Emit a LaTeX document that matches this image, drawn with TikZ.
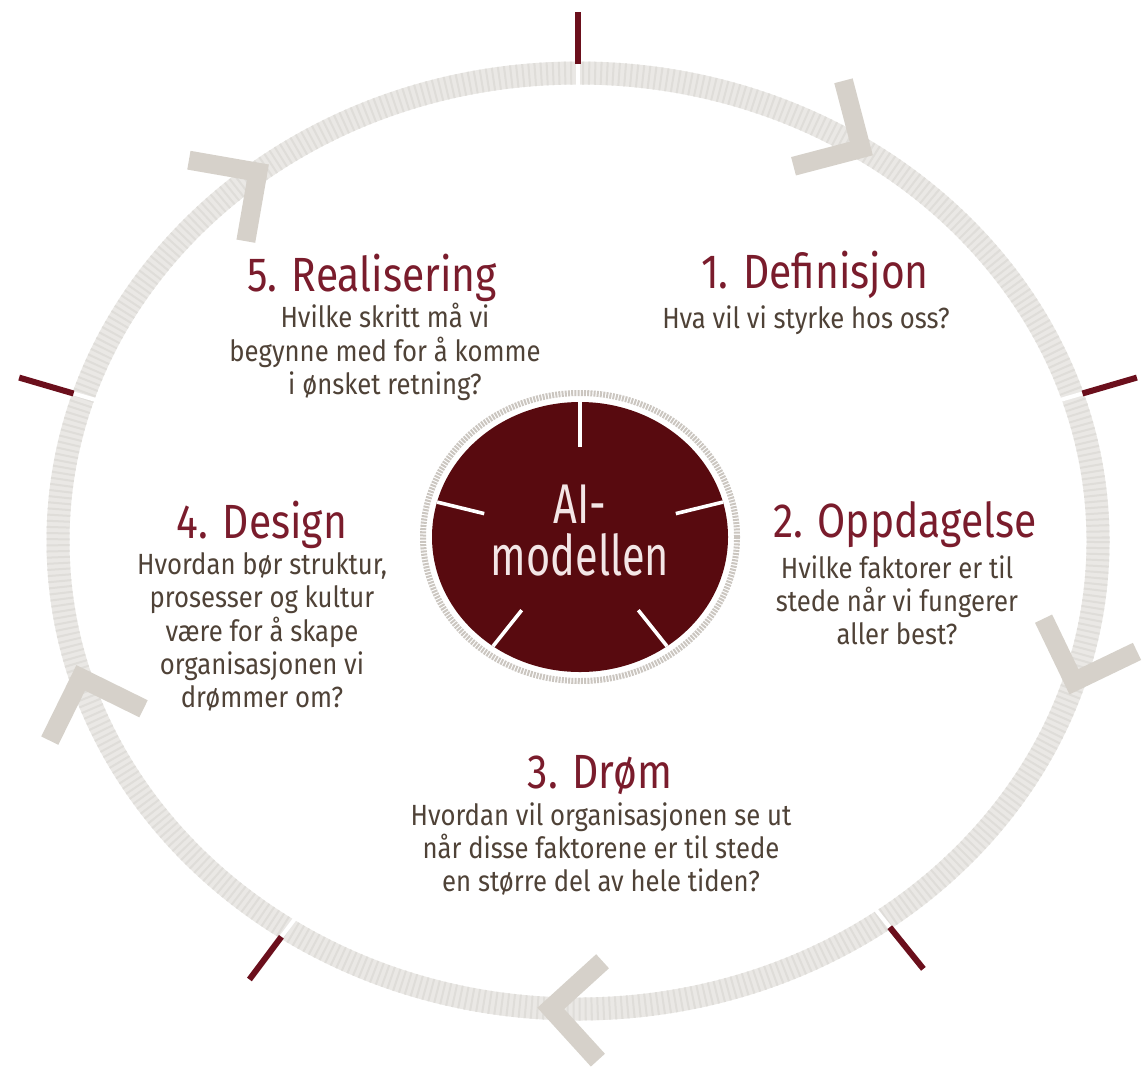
\documentclass[tikz,border=0pt]{standalone}
\usepackage{fontspec}
\usetikzlibrary{calc}
\newfontfamily\titlefont[FakeStretch=0.85]{Fira Sans}
\newfontfamily\bodyfont[FakeStretch=0.88]{Fira Sans}
\newfontfamily\centerfont[FakeStretch=0.74]{Fira Sans}
\definecolor{ringbase}{HTML}{EAE8E5}
\definecolor{ringstripe}{HTML}{DFDDD9}
\definecolor{chevcol}{HTML}{D6D1CA}
\definecolor{innerring}{HTML}{CBC6C0}
\definecolor{tickred}{HTML}{6B0F1C}
\definecolor{discred}{HTML}{580A0F}
\definecolor{titlered}{HTML}{7A1C2C}
\definecolor{bodygray}{HTML}{4F4237}
\definecolor{disctext}{HTML}{F3E6E6}
\tikzset{
  ringline/.style={line width=11.5pt, color=ringbase},
  ringtex/.style={line width=11.5pt, color=ringstripe, dash pattern=on 1pt off 2pt},
  chevron/.style={line width=9.5pt, color=chevcol, line join=miter, line cap=butt},
  ticklin/.style={line width=3pt, color=tickred},
  gapline/.style={line width=2pt, color=white},
  spoke/.style={line width=1.8pt, color=white},
  titletext/.style={font=\titlefont\fontsize{24}{28}\selectfont, text=titlered, inner sep=0pt},
  bodytext/.style={font=\bodyfont\fontsize{14.6}{16.6}\selectfont, text=bodygray, align=center, inner sep=0pt},
}
\begin{document}
\begin{tikzpicture}[x=0.5pt,y=-0.5pt]
\useasboundingbox (0,0) rectangle (1143,1071);
\fill[white] (0,0) rectangle (1143,1071);
% outer ring
\draw[ringline] (578,541) ellipse [x radius=520, y radius=468];
\draw[ringtex] (578,541) ellipse [x radius=520, y radius=468];
% ticks
\foreach \t [count=\i] in {90,18,-54,-124,162}{
  \coordinate (gapa\i) at ({578+0.97*520*cos(\t)},{541-0.97*468*sin(\t)});
  \coordinate (tickin\i) at ({578+1.02*520*cos(\t)},{541-1.02*468*sin(\t)});
  \coordinate (tickout\i) at ({578+1.13*520*cos(\t)},{541-1.13*468*sin(\t)});
  \draw[gapline] (gapa\i) -- (tickin\i);
  \draw[ticklin] (tickin\i) -- (tickout\i);
}
% chevrons
\foreach \t [count=\i] in {57,-17.5,-93,197,128}{
  \pgfmathsetmacro\px{578+520*cos(\t)}
  \pgfmathsetmacro\py{541-468*sin(\t)}
  \pgfmathsetmacro\ang{atan2(468*cos(\t),520*sin(\t))}
  \coordinate (chev\i) at (\px,\py);
  \draw[chevron] ($(chev\i)+(\ang+135:70)$) -- (chev\i) -- ($(chev\i)+(\ang-135:70)$);
}
% inner disc
\draw[line width=3pt, color=innerring, dash pattern=on 1pt off 0.6pt] (580,537) ellipse [x radius=157, y radius=144];
\fill[discred] (580,537) ellipse [x radius=148, y radius=135];
\foreach \t [count=\i] in {90,15,-54,-126,165}{
  \coordinate (spa\i) at ({580+148*cos(\t)},{537-135*sin(\t)});
  \coordinate (spb\i) at ({580+0.67*148*cos(\t)},{537-0.67*135*sin(\t)});
  \draw[spoke] (spa\i) -- (spb\i);
}
\node[font=\centerfont\fontsize{28}{26}\selectfont, text=disctext, align=center, inner sep=0pt] (center) at (580,531) {AI-\\modellen};
% texts
\node[titletext] (t5) at (372,278) {5. Realisering};
\node[bodytext] (b5) at (385,352) {Hvilke skritt må vi\\begynne med for å komme\\i ønsket retning?};
\node[titletext] (t1) at (815,275) {1. Definisjon};
\node[bodytext] (b1) at (806,320) {Hva vil vi styrke hos oss?};
\node[titletext] (t4) at (262,525) {4. Design};
\node[bodytext] (b4) at (262,632) {Hvordan bør struktur,\\prosesser og kultur\\være for å skape\\organisasjonen vi\\drømmer om?};
\node[titletext] (t2) at (905,525) {2. Oppdagelse};
\node[bodytext] (b2) at (897,600) {Hvilke faktorer er til\\stede når vi fungerer\\aller best?};
\node[titletext] (t3) at (600,775) {3. Drøm};
\node[bodytext] (b3) at (601,849) {Hvordan vil organisasjonen se ut\\når disse faktorene er til stede\\en større del av hele tiden?};
\end{tikzpicture}
\end{document}
